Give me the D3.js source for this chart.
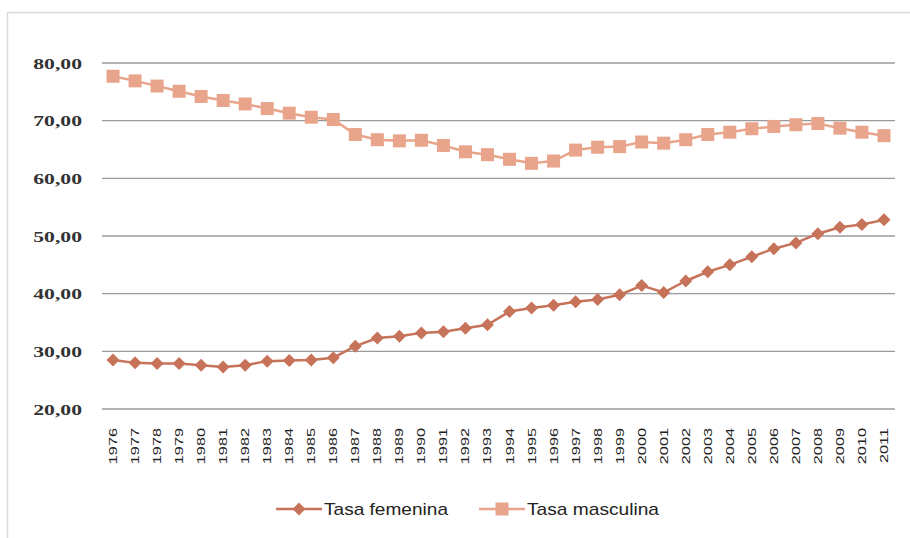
<!DOCTYPE html>
<html><head><meta charset="utf-8">
<script src="https://cdn.jsdelivr.net/npm/d3@7"></script>
<style>body{margin:0;background:#fff}svg{display:block}</style>
</head><body><svg id="c" width="910" height="538"></svg>
<script>
const years = ["1976","1977","1978","1979","1980","1981","1982","1983","1984","1985","1986","1987","1988","1989","1990","1991","1992","1993","1994","1995","1996","1997","1998","1999","2000","2001","2002","2003","2004","2005","2006","2007","2008","2009","2010","2011"];
const femenina = [28.5,28.0,27.9,27.9,27.6,27.3,27.6,28.3,28.4,28.5,28.9,30.9,32.3,32.6,33.2,33.4,34.0,34.6,36.9,37.5,38.0,38.6,39.0,39.8,41.4,40.2,42.2,43.8,45.0,46.4,47.8,48.8,50.4,51.5,52.0,52.8];
const masculina = [77.7,76.9,76.0,75.1,74.2,73.5,72.9,72.1,71.3,70.6,70.2,67.6,66.7,66.5,66.6,65.7,64.6,64.1,63.3,62.6,63.0,64.9,65.4,65.5,66.3,66.1,66.7,67.6,68.0,68.6,69.0,69.3,69.5,68.7,68.0,67.4];
const yTicks = [20,30,40,50,60,70,80];
const seriesNames = ["Tasa femenina","Tasa masculina"];

const svg = d3.select("#c");
const fem = "#c7735a", mas = "#e8a58c";
svg.append("rect").attr("x",7.5).attr("y",12.5).attr("width",910).attr("height",530)
  .attr("fill","#fff").attr("stroke","#d9d9d9").attr("stroke-width",1.5);

const x = d3.scaleBand().domain(years).range([102,895]);
const y = d3.scaleLinear().domain([20,80]).range([409,63]);

svg.append("g").selectAll("line").data(yTicks).join("line")
  .attr("x1",102).attr("x2",895).attr("y1",d=>y(d)).attr("y2",d=>y(d))
  .attr("stroke","#9a9a9a").attr("stroke-width",1.3);

const yAxis = svg.append("g").attr("transform","translate(102,0)")
  .call(d3.axisLeft(y).tickValues(yTicks).tickSize(0).tickPadding(0).tickFormat(d=>d3.format(".2f")(d).replace(".",",")));
yAxis.select(".domain").remove();
yAxis.selectAll(".tick text").attr("x",null).attr("dy",null)
  .attr("font-family","'Liberation Serif','DejaVu Serif',serif").attr("font-weight","bold").attr("font-size",15.5).attr("fill","#333")
  .attr("text-anchor","end").attr("transform","translate(-20,5) scale(1.4,1)");

const xAxis = svg.append("g").attr("transform","translate(0,409)")
  .call(d3.axisBottom(x).tickSize(0).tickPadding(0));
xAxis.select(".domain").remove();
xAxis.selectAll(".tick text").attr("y",null).attr("dy",null)
  .attr("font-family","'Liberation Sans','DejaVu Sans',sans-serif").attr("font-size",10.5).attr("fill","#222")
  .attr("text-anchor","end").attr("transform","translate(4,19) rotate(-90) scale(1.55,1)");

const cx = d => x(d)+x.bandwidth()/2;
const line = d3.line().x((d,i)=>cx(years[i])).y(d=>y(d));

svg.append("path").datum(masculina).attr("d",line).attr("fill","none").attr("stroke",mas).attr("stroke-width",2.5);
svg.append("g").selectAll("rect").data(masculina).join("rect")
  .attr("x",(d,i)=>cx(years[i])-6.5).attr("y",d=>y(d)-6.5).attr("width",13).attr("height",13).attr("fill",mas);

svg.append("path").datum(femenina).attr("d",line).attr("fill","none").attr("stroke",fem).attr("stroke-width",2.5);
const diamond = "M0,-6.5L6.5,0L0,6.5L-6.5,0Z";
svg.append("g").selectAll("path").data(femenina).join("path")
  .attr("transform",(d,i)=>`translate(${cx(years[i])},${y(d)})`)
  .attr("d",diamond).attr("fill",fem);

const lg = svg.append("g").attr("transform","translate(0,509)");
const items = [{n:seriesNames[0],c:fem,s:"d",x:276,w:124},{n:seriesNames[1],c:mas,s:"s",x:479,w:132}];
items.forEach(it=>{
  const g = lg.append("g").attr("transform",`translate(${it.x},0)`);
  g.append("line").attr("x1",0).attr("x2",46).attr("stroke",it.c).attr("stroke-width",2.5);
  if(it.s==="d") g.append("path").attr("d",diamond).attr("transform","translate(23,0)").attr("fill",it.c);
  else g.append("rect").attr("x",16.5).attr("y",-6.5).attr("width",13).attr("height",13).attr("fill",it.c);
  g.append("text").attr("x",48).attr("y",6).text(it.n)
    .attr("textLength",it.w).attr("lengthAdjust","spacingAndGlyphs")
    .attr("font-family","'Liberation Sans',sans-serif").attr("font-size",17).attr("fill","#222");
});
</script></body></html>
